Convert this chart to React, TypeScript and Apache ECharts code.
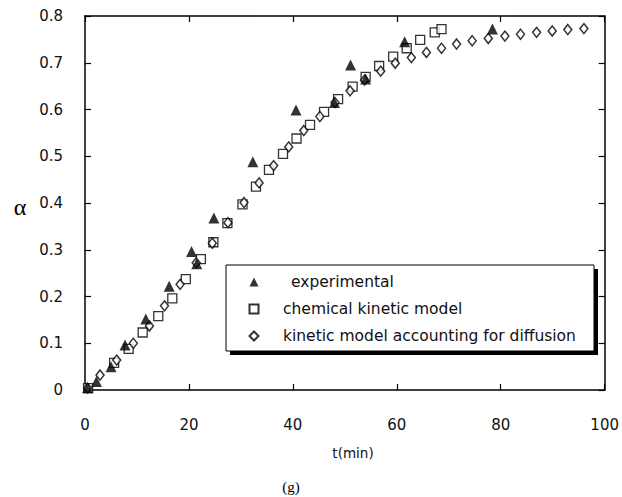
import React, { useEffect, useRef } from "react";
import * as echarts from "echarts";

const expT = [0.5, 2.2, 5, 7.7, 11.7, 16.2, 20.5, 21.5, 24.8, 32.3, 40.6, 48, 51.1, 54, 61.5, 78.4];
const expA = [0.005, 0.018, 0.05, 0.096, 0.152, 0.222, 0.296, 0.27, 0.368, 0.488, 0.599, 0.615, 0.695, 0.665, 0.745, 0.772];

const chemT = [0.6, 5.6, 8.4, 11.1, 14.1, 16.8, 19.4, 22.3, 24.7, 27.4, 30.3, 32.9, 35.4, 38.1, 40.7, 43.3, 46, 48.7, 51.5, 54, 56.6, 59.3, 61.9, 64.5, 67.3, 68.6];
const chemA = [0.004, 0.058, 0.088, 0.123, 0.158, 0.196, 0.237, 0.28, 0.316, 0.357, 0.397, 0.435, 0.471, 0.505, 0.538, 0.567, 0.595, 0.622, 0.649, 0.67, 0.693, 0.713, 0.731, 0.749, 0.765, 0.772];

const diffT = [0.5, 2.9, 6.1, 9.3, 12.4, 15.3, 18.3, 21.4, 24.5, 27.5, 30.6, 33.5, 36.3, 39.2, 42.1, 45.2, 48.1, 51, 53.8, 56.9, 59.7, 62.8, 65.7, 68.6, 71.5, 74.5, 77.6, 80.8, 83.8, 86.9, 89.9, 92.9, 96];
const diffA = [0.004, 0.032, 0.064, 0.1, 0.137, 0.18, 0.226, 0.272, 0.314, 0.358, 0.401, 0.443, 0.48, 0.52, 0.555, 0.585, 0.615, 0.64, 0.663, 0.682, 0.699, 0.711, 0.722, 0.731, 0.74, 0.747, 0.752, 0.757, 0.761, 0.765, 0.768, 0.771, 0.773];

const seriesNames = ["experimental", "chemical kinetic model", "kinetic model accounting for diffusion"];
const xLabel = "t(min)";
const yLabel = "α";
const caption = "(g)";

const zip = (a: number[], b: number[]) => a.map((v, i) => [v, b[i]]);

export default function App() {
  const ref = useRef<HTMLDivElement>(null);
  useEffect(() => {
    if (!ref.current) return;
    const chart = echarts.init(ref.current, undefined, { renderer: "svg" });
    const font = "DejaVu Sans";
    const axisCommon = {
      type: "value" as const,
      axisLine: { show: true, onZero: false, lineStyle: { color: "#000", width: 1.5 } },
      splitLine: { show: false },
    };
    const tick = { show: true, inside: true, length: 6, lineStyle: { color: "#000", width: 1.2 } };
    chart.setOption({
      animation: false,
      backgroundColor: "#fff",
      grid: { left: 85, top: 16, right: 17, bottom: 107, containLabel: false },
      xAxis: [
        {
          ...axisCommon,
          position: "bottom",
          min: 0,
          max: 100,
          interval: 20,
          axisTick: tick,
          axisLabel: { margin: 27, color: "#111", fontFamily: font, fontSize: 15 },
        },
        {
          ...axisCommon,
          position: "top",
          min: 0,
          max: 100,
          interval: 20,
          axisTick: tick,
          axisLabel: { show: false },
        },
      ],
      yAxis: [
        {
          ...axisCommon,
          position: "left",
          min: 0,
          max: 0.8,
          interval: 0.1,
          axisTick: tick,
          axisLabel: {
            margin: 22,
            color: "#111",
            fontFamily: font,
            fontSize: 15,
            formatter: (v: number) => (v === 0 ? "0" : v.toFixed(1)),
          },
        },
        {
          ...axisCommon,
          position: "right",
          min: 0,
          max: 0.8,
          interval: 0.1,
          axisTick: tick,
          axisLabel: { show: false },
        },
      ],
      legend: {
        orient: "vertical",
        left: 243.5,
        top: 269,
        itemWidth: 9,
        itemHeight: 9,
        itemGap: 11,
        selectedMode: false,
        data: seriesNames,
        formatter: (name: string) => (name === seriesNames[0] ? "{e|" + name + "}" : name),
        textStyle: {
          fontFamily: font,
          fontSize: 15.5,
          color: "#111",
          padding: [0, 0, 0, 19.5],
          lineHeight: 16,
          rich: { e: { fontFamily: font, fontSize: 15.5, color: "#111", padding: [0, 0, 0, 8] } },
        },
      },
      graphic: [
        { type: "rect", z: 3, shape: { x: 230, y: 269, width: 368, height: 86 }, style: { fill: "#000" } },
        {
          type: "rect",
          z: 3,
          shape: { x: 226, y: 265, width: 368, height: 86 },
          style: { fill: "#fff", stroke: "#000", lineWidth: 1 },
        },
        {
          type: "text",
          x: 20,
          y: 207,
          style: { text: yLabel, fontFamily: "Liberation Serif", fontSize: 24, fill: "#000", align: "center", verticalAlign: "middle" },
        },
        {
          type: "text",
          x: 353,
          y: 453,
          style: { text: xLabel, fontFamily: font, fontSize: 13.5, fill: "#111", align: "center", verticalAlign: "middle" },
        },
        {
          type: "text",
          x: 291,
          y: 487,
          style: { text: caption, fontFamily: "Liberation Serif", fontSize: 15, fill: "#000", align: "center", verticalAlign: "middle" },
        },
      ],
      series: [
        {
          name: seriesNames[1],
          type: "scatter",
          symbol: "rect",
          symbolSize: 9,
          itemStyle: { color: "#fff", borderColor: "#000", borderWidth: 1.3 },
          data: zip(chemT, chemA),
        },
        {
          name: seriesNames[2],
          type: "scatter",
          symbol: "diamond",
          symbolSize: [8, 10],
          itemStyle: { color: "#fff", borderColor: "#000", borderWidth: 1.5 },
          data: zip(diffT, diffA),
        },
        {
          name: seriesNames[0],
          type: "scatter",
          symbol: "triangle",
          symbolSize: 11,
          itemStyle: { color: "#000" },
          data: zip(expT, expA),
        },
      ],
    });
    return () => chart.dispose();
  }, []);
  return <div ref={ref} style={{ position: "fixed", left: 0, top: 0, width: 622, height: 497 }} />;
}
